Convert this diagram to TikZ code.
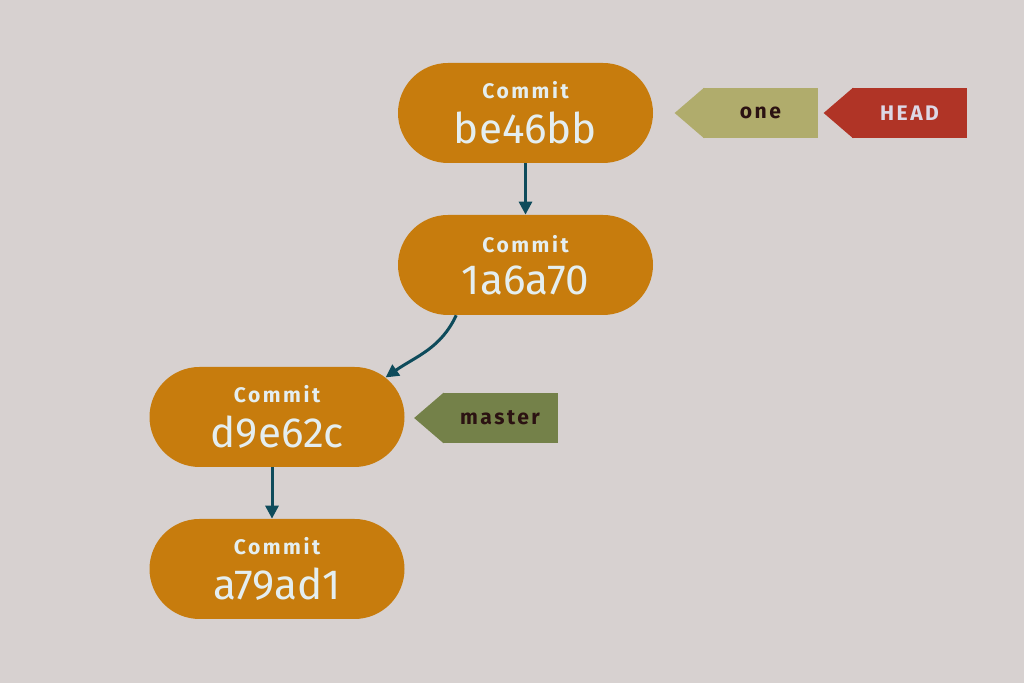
\documentclass[tikz,border=0pt]{standalone}
\usepackage{fontspec}
\setmainfont{Fira Sans}
\newfontfamily\labelfont[LetterSpace=12]{Fira Sans}
\usetikzlibrary{arrows.meta, shapes.misc}

\definecolor{bgcol}{HTML}{D7D1D0}
\definecolor{commitcol}{HTML}{C77C0D}
\definecolor{hashcol}{HTML}{E4EEF0}
\definecolor{headtext}{HTML}{DCD8E6}
\definecolor{arrowcol}{HTML}{0E4B5B}
\definecolor{onecol}{HTML}{B0AC6C}
\definecolor{headcol}{HTML}{B03426}
\definecolor{mastercol}{HTML}{748149}
\definecolor{tagtext}{HTML}{2B1212}

\tikzset{
  commit/.style={rounded rectangle, fill=commitcol, text=hashcol,
    minimum width=5.1cm, minimum height=2cm, align=center, inner sep=0pt},
  tagbox/.style={fill=#1, text=tagtext, minimum width=2.3cm,
    minimum height=1cm, inner sep=0pt,
    font=\labelfont\bfseries\fontsize{12}{14}\selectfont},
  parent/.style={-{Triangle[length=0.26cm, width=0.26cm]}, line width=0.06cm, arrowcol}
}

\newcommand{\commitlabel}[1]{{\labelfont\bfseries\fontsize{12}{14}\selectfont Commit}\\[0.23cm]
  {\fontsize{24}{26}\selectfont #1}}

\begin{document}
\begin{tikzpicture}

% background
\fill[bgcol] (0,0) rectangle (20.48,13.66);
\useasboundingbox (0,0) rectangle (20.48,13.66);

% commits
\node[commit] (cbe46bb) at (10.51,11.40) {\commitlabel{be46bb}};
\node[commit] (c1a6a70) at (10.51,8.36) {\commitlabel{1a6a70}};
\node[commit] (cd9e62c) at (5.54,5.32) {\commitlabel{d9e62c}};
\node[commit] (ca79ad1) at (5.54,2.28) {\commitlabel{a79ad1}};

% parent links
\draw[parent] (cbe46bb.south) -- (c1a6a70.north);
\draw[parent] (c1a6a70.216) to[out=-115, in=35] (cd9e62c.20);
\draw[parent] ([xshift=-0.1cm]cd9e62c.south) -- ([xshift=-0.1cm]ca79ad1.north);

% branch and HEAD labels
\node[tagbox=onecol] (one) at (15.21,11.40) {one};
\fill[onecol] ([xshift=0.03cm]one.north west) -- ([xshift=-0.56cm]one.west) -- ([xshift=0.03cm]one.south west) -- cycle;

\node[tagbox=headcol, text=headtext] (head) at (18.19,11.40) {HEAD};
\fill[headcol] ([xshift=0.03cm]head.north west) -- ([xshift=-0.56cm]head.west) -- ([xshift=0.03cm]head.south west) -- cycle;

\node[tagbox=mastercol] (master) at (10.0,5.30) {master};
\fill[mastercol] ([xshift=0.03cm]master.north west) -- ([xshift=-0.56cm]master.west) -- ([xshift=0.03cm]master.south west) -- cycle;

\end{tikzpicture}
\end{document}
